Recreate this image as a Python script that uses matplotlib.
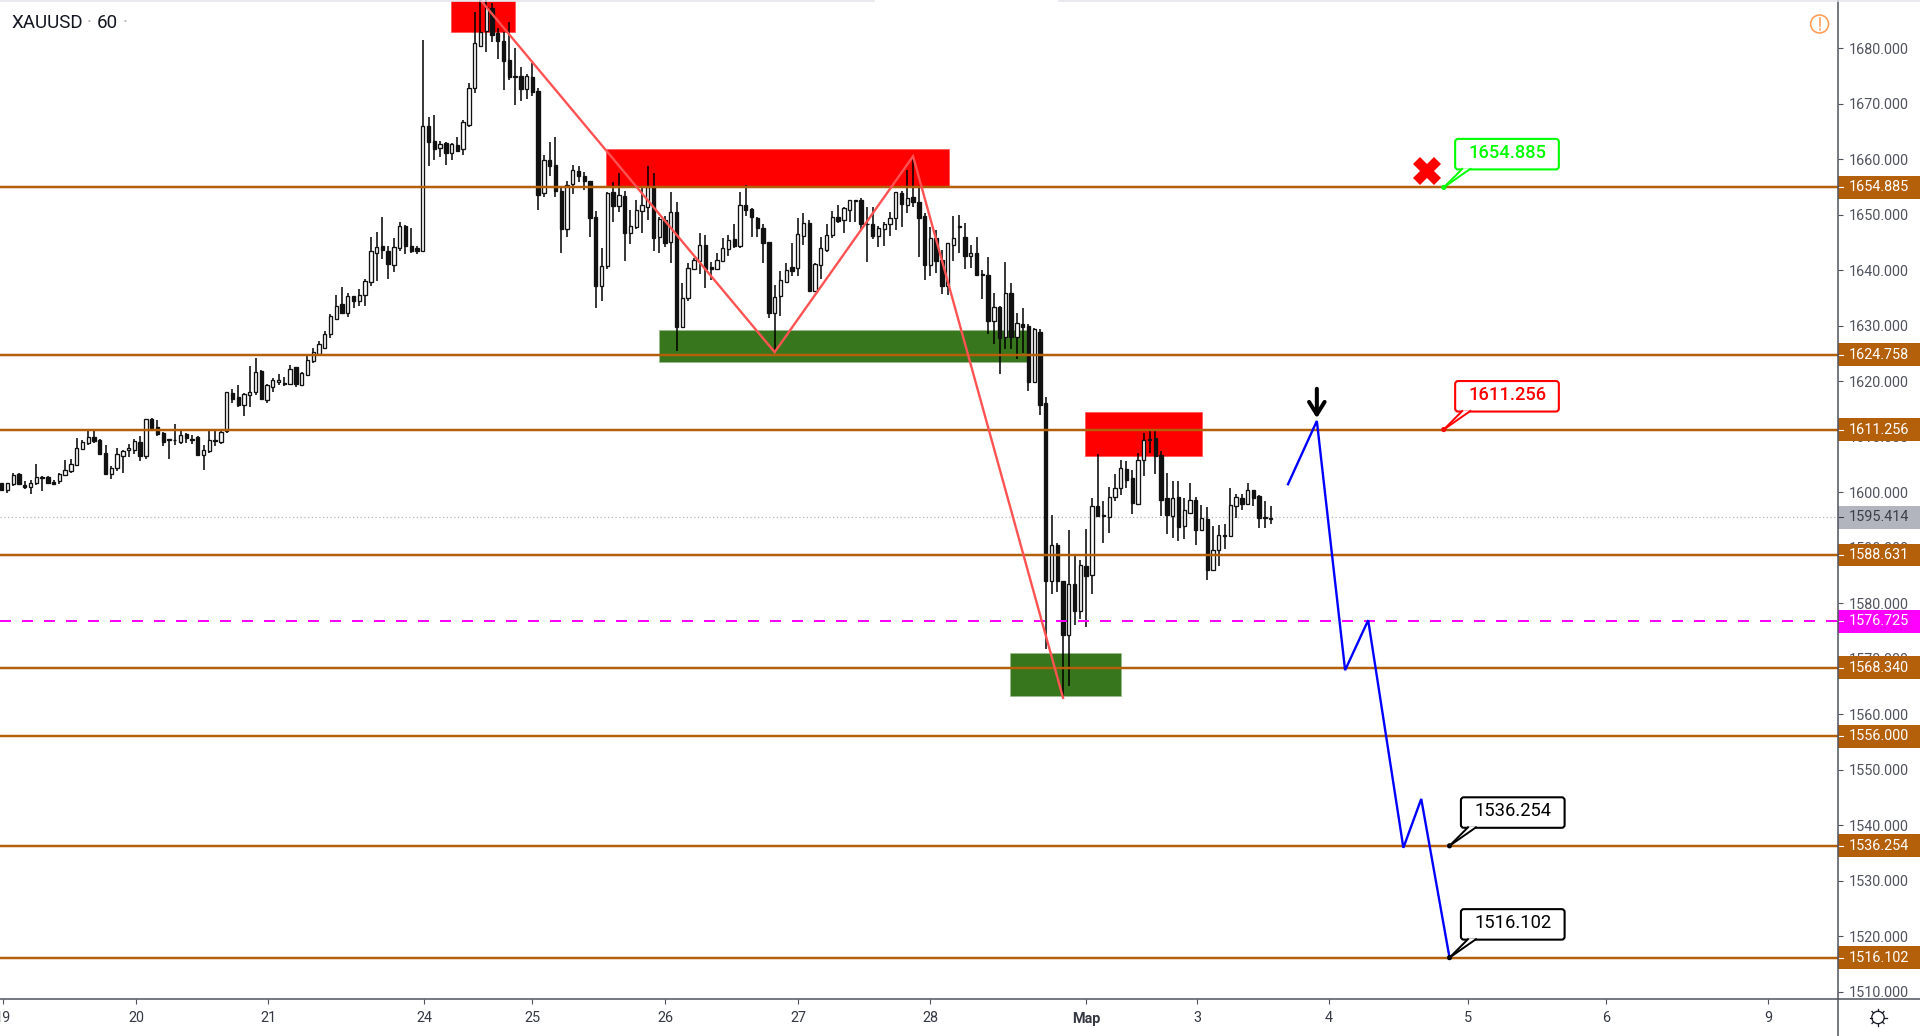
import matplotlib
matplotlib.use("Agg")
import matplotlib.pyplot as plt
import numpy as np
from matplotlib.lines import Line2D
from matplotlib.patches import Rectangle, FancyBboxPatch, Polygon, Circle
from matplotlib.transforms import Affine2D

plt.rcParams['font.family'] = ['Roboto', 'DejaVu Sans']

# hourly candles
opens = [1601.6,1600.3,1601.5,1603.3,1601.2,1600.9,1601.7,1602.7,1602.7,1601.8,
1602.0,1603.1,1603.7,1604.9,1607.7,1608.9,1610.0,1609.4,1607.1,1603.2,
1604.4,1606.5,1607.5,1607.5,1609.1,1606.4,1613.2,1611.8,1610.7,1609.5,
1609.4,1609.0,1610.5,1609.6,1609.9,1606.7,1607.4,1609.2,1609.1,1611.0,
1617.8,1617.1,1615.7,1617.5,1618.0,1621.8,1616.6,1618.9,1619.8,1619.6,
1619.5,1622.5,1619.2,1621.1,1623.6,
1624.8,1626.0,1628.5,1631.2,1633.8,1632.3,1635.3,1634.5,1635.5,1637.8,
1643.1,1644.3,1643.5,1640.9,1643.9,1648.0,1644.3,1643.9,1643.5,1665.9,
1663.2,1661.9,1662.9,1661.1,1662.6,1661.8,1666.2,1672.8,1680.4,1683.0,
1687.2,1682.7,1681.2,1677.9,1674.9,1675.0,1672.6,1674.7,1672.3,1653.9,
1659.9,1659.0,1654.2,1647.4,1655.5,1657.8,1656.9,1656.0,1649.5,1637.2,
1640.8,1654.0,1651.5,1653.3,1646.7,1647.7,
1650.6,1651.4,1655.0,1645.9,1649.1,1645.0,1650.4,1629.7,1634.9,
1640.1,1641.6,1644.5,1640.5,1640.1,1641.6,1643.7,1645.6,1644.3,1651.7,
1651.0,1649.4,1647.6,1645.0,1632.2,1635.4,1637.8,1640.5,1640.3,1646.2,
1648.5,1636.3,1640.9,1643.6,1646.3,1649.6,1649.0,1650.9,1652.6,1652.7,
1648.3,1648.3,1646.1,1647.3,1648.2,1649.3,1653.8,1651.8,1653.2,1652.2,
1649.7,1640.9,1645.7,1641.8,1637.2,1644.5,1647.9,
1646.0,1642.5,1643.1,
1639.2,1639.1,1630.9,1633.3,1628.0,1635.9,1627.9,1630.3,1629.9,1619.9,
1628.9,1616.1,1584.0,1590.5,1583.9,1574.3,1583.5,1578.6,1586.6,1585.1,
1597.4,1595.9,1595.5,1599.1,1600.7,1604.1,1602.6,1597.9,1605.7,1609.5,
1609.7,1606.7,1598.9,1595.6,1599.1,1593.9,1596.2,1598.6,1593.2,1595.1,
1585.9,1589.5,1592.3,1592.1,1597.5,1598.9,1597.9,1600.3,1599.2,1595.5,
1595.1]
highs = [1601.7,1601.7,1603.4,1603.4,1601.9,1602.2,1605.1,1602.8,1602.8,1602.1,
1603.5,1605.7,1605.9,1609.7,1609.4,1611.2,1611.2,1609.5,1608.5,1604.7,
1608.0,1607.6,1608.6,1609.5,1610.1,1613.2,1613.3,1612.9,1610.8,1609.5,
1612.3,1611.2,1610.7,1610.3,1610.1,1608.5,1611.1,1611.1,1611.3,1618.1,
1618.5,1619.3,1617.9,1622.7,1624.2,1622.0,1619.5,1620.5,1621.3,1620.7,
1622.8,1622.6,1621.6,1624.7,1626.0,
1627.2,1629.0,1632.1,1635.5,1636.9,1635.9,1635.4,1636.5,1638.3,1646.0,
1646.9,1649.5,1644.3,1645.8,1648.6,1648.1,1647.5,1644.4,1681.5,1667.5,
1668.0,1663.2,1663.0,1662.9,1663.9,1667.1,1673.7,1686.4,1688.7,1688.7,
1688.1,1683.6,1682.8,1684.6,1680.0,1676.5,1675.3,1677.3,1672.8,1660.8,
1663.0,1663.9,1655.1,1656.0,1659.0,1658.7,1657.6,1656.0,1650.6,1644.0,
1654.0,1655.8,1657.5,1654.2,1650.9,1652.7,
1654.7,1658.7,1657.4,1649.5,1649.8,1654.0,1652.3,1637.6,1641.2,
1642.1,1646.6,1646.3,1641.5,1643.0,1645.7,1646.3,1648.2,1654.0,1655.4,
1651.1,1649.6,1648.3,1645.0,1637.3,1639.8,1641.2,1644.8,1649.3,1650.2,
1649.0,1641.2,1645.9,1648.3,1650.6,1651.7,1651.4,1652.7,1652.6,1652.9,
1651.3,1651.3,1647.9,1648.7,1650.5,1654.1,1654.3,1658.0,1660.5,1655.0,
1650.3,1647.7,1647.2,1643.6,1644.9,1649.7,1650.0,
1648.5,1644.5,1646.0,
1640.0,1642.4,1635.8,1633.5,1641.5,1637.7,1632.3,1633.1,1630.2,1629.5,
1629.3,1617.2,1595.9,1590.9,1584.0,1593.2,1588.7,1587.7,1593.4,1598.9,
1606.9,1598.3,1600.9,1603.3,1605.8,1605.6,1604.0,1607.1,1610.7,1611.2,
1611.0,1607.3,1603.5,1601.9,1601.9,1598.9,1601.7,1599.1,1597.7,1597.3,
1593.8,1594.1,1594.3,1600.7,1599.7,1599.7,1601.6,1600.4,1599.5,1598.3,
1597.4]
lows = [1600.3,1599.8,1601.1,1601.3,1600.5,1599.7,1601.3,1600.2,1601.5,1601.2,
1601.5,1602.8,1603.4,1604.8,1607.5,1608.5,1608.8,1606.7,1603.1,1602.3,
1603.7,1603.5,1606.3,1606.9,1605.6,1605.9,1611.1,1610.1,1608.3,1606.0,
1608.4,1608.7,1608.8,1608.7,1606.5,1604.0,1607.1,1608.3,1608.7,1610.7,
1616.1,1615.3,1613.7,1615.4,1617.5,1616.5,1616.1,1618.0,1619.3,1619.1,
1619.4,1619.0,1619.1,1621.1,1623.3,
1624.5,1625.7,1627.7,1631.1,1632.1,1631.5,1633.2,1633.6,1633.6,1637.2,
1638.1,1641.9,1638.3,1639.6,1643.5,1642.8,1643.1,1642.9,1643.5,1658.7,
1659.9,1660.3,1659.0,1659.8,1661.5,1660.8,1665.7,1671.9,1680.1,1679.3,
1681.1,1678.1,1672.5,1674.3,1669.8,1670.5,1670.9,1671.4,1650.9,1653.1,
1657.0,1653.1,1643.1,1646.0,1653.7,1655.8,1654.5,1646.0,1633.1,1634.5,
1640.2,1648.6,1650.5,1641.7,1644.6,1647.3,
1646.7,1649.0,1643.5,1643.1,1644.1,1641.2,1625.4,1629.7,1634.4,
1640.0,1639.3,1636.8,1638.2,1640.0,1641.6,1642.5,1643.9,1643.9,1649.7,
1645.9,1645.9,1641.3,1631.3,1625.4,1631.7,1637.6,1638.9,1638.9,1644.5,
1636.3,1636.3,1638.4,1643.3,1645.8,1648.4,1646.6,1648.6,1648.7,1647.2,
1641.4,1645.6,1644.2,1644.3,1646.1,1647.2,1647.7,1650.2,1651.3,1642.3,
1638.2,1638.9,1639.4,1635.6,1635.5,1641.6,1643.0,
1640.1,1640.3,1638.9,
1634.8,1628.5,1626.7,1621.3,1625.7,1625.7,1623.9,1625.0,1618.2,1619.7,
1613.9,1571.7,1581.7,1581.9,1563.0,1565.0,1576.1,1577.1,1575.6,1581.7,
1595.6,1590.9,1592.7,1598.3,1599.5,1600.7,1596.1,1597.9,1602.9,1607.1,
1603.3,1595.6,1592.5,1591.8,1591.2,1591.5,1596.0,1590.5,1593.1,1584.1,
1585.8,1586.7,1589.7,1592.0,1595.4,1596.7,1597.7,1597.4,1593.6,1593.6,
1594.2]
closes = [1600.4,1601.6,1603.1,1601.5,1600.9,1601.7,1602.7,1602.6,1601.7,1601.5,
1603.3,1604.0,1605.1,1607.9,1609.1,1610.0,1609.2,1606.9,1603.2,1604.4,
1606.9,1607.3,1608.0,1609.2,1606.5,1613.1,1611.5,1610.5,1609.1,1609.4,
1609.3,1610.2,1609.8,1609.4,1606.7,1607.6,1609.4,1609.3,1610.9,1618.0,
1616.7,1615.7,1617.7,1618.1,1621.7,1616.7,1619.3,1620.1,1620.2,1619.5,
1622.2,1619.5,1621.4,1623.8,1625.3,
1626.6,1628.4,1631.7,1633.5,1632.3,1635.4,1634.5,1635.5,1638.1,1643.4,
1644.1,1643.6,1641.0,1644.1,1647.9,1644.4,1643.5,1643.5,1665.9,1663.1,
1661.8,1662.7,1661.1,1662.7,1661.5,1666.6,1672.8,1680.9,1682.8,1687.3,
1682.3,1681.2,1677.7,1674.7,1674.8,1672.6,1675.0,1672.1,1653.6,1659.9,
1658.8,1654.2,1647.4,1655.4,1658.1,1656.9,1656.0,1649.4,1637.2,1640.8,
1653.9,1651.5,1653.6,1646.7,1647.9,1650.9,
1651.7,1654.9,1645.7,1649.2,1644.9,1650.4,1629.7,1635.0,1640.3,
1641.8,1644.5,1640.2,1640.1,1641.8,1643.9,1645.4,1644.3,1651.7,1650.9,
1649.5,1647.5,1644.9,1632.2,1635.2,1638.2,1640.0,1639.9,1646.5,1648.5,
1636.3,1641.1,1643.9,1646.3,1649.6,1648.8,1651.1,1652.6,1652.5,1648.2,
1648.2,1646.1,1647.5,1648.3,1649.4,1654.0,1651.9,1653.0,1652.2,1649.3,
1640.9,1645.7,1641.7,1637.2,1644.8,1645.8,1647.7,
1642.6,1643.1,1639.1,
1639.1,1630.9,1633.3,1627.7,1635.9,1628.0,1630.5,1629.8,1619.9,1629.3,
1615.7,1584.0,1590.5,1584.0,1574.3,1583.5,1578.6,1586.9,1584.9,1597.4,
1595.7,1595.7,1599.1,1600.8,1604.4,1602.2,1598.0,1605.8,1609.3,1609.3,
1606.5,1598.6,1595.9,1599.0,1593.7,1596.7,1598.5,1593.2,1595.3,1585.9,
1589.5,1592.3,1592.1,1597.7,1599.1,1597.9,1600.3,1598.9,1595.4,1595.3,
1595.4]

# axis labels
day_bars = [0.14, 23.3, 46.2, 73.2, 92, 115, 138.1, 161, 188, 207.3, 230.1, 254.2, 278.2, 306.2]
day_labels = ["19", "20", "21", "24", "25", "26", "27", "28", "Мар", "3", "4", "5", "6", "9"]
price_ticks = [1510, 1520, 1530, 1540, 1550, 1560, 1570, 1580, 1590, 1600, 1610, 1620, 1630, 1640, 1650, 1660, 1670, 1680]

# horizontal levels and special prices
levels = [1654.885, 1624.758, 1611.256, 1588.631, 1568.340, 1556.000, 1536.254, 1516.102]
last_price = 1595.414
magenta_price = 1576.725

# drawings: zones as (bar from, bar to, price low, price high)
red_zones = [(77.9, 89.0, 1682.9, 1688.5), (104.8, 164.2, 1655.05, 1661.8), (187.8, 208.1, 1606.4, 1614.5)]
green_zones = [(114.0, 178.0, 1623.4, 1629.2), (174.8, 194.0, 1563.3, 1571.0)]
zig_bars = [83.2, 134, 158, 184]
zig_prices = [1688.4, 1625.2, 1660.5, 1562.9]
plan_bars = [223, 228, 232.9, 236.9, 243, 246.1, 251]
plan_prices = [1601.4, 1612.8, 1567.9, 1576.9, 1535.9, 1544.7, 1516.102]
# callouts: anchor bar, anchor price, label, colour
callouts = [(250.0, 1654.885, "1654.885", "#00ff00"), (250.0, 1611.256, "1611.256", "#ff0000"),
            (251.0, 1536.254, "1536.254", "#000000"), (251.0, 1516.102, "1516.102", "#000000")]

BROWN = "#b4600a"
AXC = "#50535e"
W, H, AX_R, AX_B = 1920, 1036, 1838, 999

fig = plt.figure(figsize=(W / 100, H / 100), dpi=100, facecolor="white")
ax = fig.add_axes([0, (H - AX_B) / H, AX_R / W, AX_B / H])
ax.set_xlim(-0.295, 318.35)
ax.set_ylim(1508.65, 1688.65)
for s in ax.spines.values():
    s.set_visible(False)
pix = Affine2D().scale(1, -1).translate(0, H)  # image pixels, y down

ax.yaxis.tick_right()
ax.set_yticks(price_ticks)
ax.set_yticklabels(["%.3f" % p for p in price_ticks])
ax.set_xticks(day_bars)
ax.set_xticklabels(day_labels)
ax.tick_params(axis="y", length=3.6, width=0.8, color=AXC, labelcolor=AXC, pad=4.3, labelsize=10.4)
ax.tick_params(axis="x", length=3.6, width=0.8, color=AXC, labelcolor="#333842", pad=5.4, labelsize=10.4)
ax.get_xticklabels()[day_labels.index("Мар")].set_fontweight("bold")

# zones under the candles
for x0, x1, y0, y1 in red_zones:
    ax.add_patch(Rectangle((x0, y0), x1 - x0, y1 - y0, fc="#ff0000", ec="#ff5050", lw=0.5, zorder=1))
for x0, x1, y0, y1 in green_zones:
    ax.add_patch(Rectangle((x0, y0), x1 - x0, y1 - y0, fc="#38761d", ec="#9dbb8e", lw=0.5, zorder=1))

# candles
o, h, l, c = map(np.array, (opens, highs, lows, closes))
bars = np.arange(len(o))
ax.vlines(bars, l, h, color="#000000", lw=1.1, zorder=3)
up = c >= o
ax.bar(bars, c - o, bottom=o, width=0.58, color=np.where(up, "white", "#111111"),
       edgecolor="#111111", lw=0.95, zorder=4)

# levels, with a pale edge like the reference
for p in levels:
    ax.axhline(p, color=BROWN, lw=2.6, alpha=0.25, zorder=5)
    ax.axhline(p, color=BROWN, lw=1.5, zorder=5)
ax.axhline(last_price, color="#b2b5be", lw=0.9, ls=(0, (1, 2)), zorder=2)
ax.axhline(magenta_price, color="#ff00ff", lw=1.44, dashes=(5.5, 5.5), zorder=5)

# zigzag and forecast path
ax.plot(zig_bars, zig_prices, color="#ff5252", lw=1.7, zorder=6, solid_joinstyle="miter")
ax.plot(plan_bars, plan_prices, color="#0000ff", lw=1.7, zorder=6, solid_joinstyle="miter")

ax.annotate("", xy=(228, 1613.3), xytext=(228, 1618.6),
            arrowprops=dict(arrowstyle="->,head_length=0.45,head_width=0.28", lw=2.9, color="black",
                            shrinkA=0, shrinkB=0, mutation_scale=20), zorder=7)
ax.plot([247.1], [1657.9], marker="X", color="#ff0000", ms=20, mew=0, zorder=7)

# callouts, offsets are pixels from the anchor
for b, p, txt, col in callouts:
    ox, oy = ax.transData.transform((b, p))
    t = Affine2D().translate(ox, oy)
    ax.add_patch(FancyBboxPatch((11.4, 18), 103.7, 30.5, boxstyle="round,pad=0,rounding_size=3",
                                fc="white", ec=col, lw=1.5, transform=t, zorder=8, clip_on=False))
    ax.add_patch(Polygon([(0, 0), (18.5, 19), (26.5, 19)], fc="white", ec="none", transform=t, zorder=8))
    ax.add_line(Line2D([0, 18.5], [0, 18.5], color=col, lw=1.4, transform=t, zorder=9))
    ax.add_line(Line2D([0, 26.5], [0, 18.5], color=col, lw=1.4, transform=t, zorder=9))
    ax.add_patch(Circle((0, 0), 2.6, fc=col, ec="none", transform=t, zorder=9))
    ax.text(63.5, 34.5, txt, ha="center", va="center", color=col, fontsize=13.2,
            fontweight="medium" if col != "#000000" else "normal", transform=t, zorder=9)

# price labels on the right scale
def price_label(p, fc, tc):
    trans = ax.get_yaxis_transform()
    ax.add_patch(Rectangle((1.0, p - 2.05), (W - AX_R) / AX_R, 4.1, fc=fc, ec="none", transform=trans,
                           clip_on=False, zorder=10))
    ax.add_line(Line2D([1.0005, 1.0027], [p, p], color="white" if fc != "#b2b5be" else tc, lw=0.8,
                       transform=trans, clip_on=False, zorder=11))
    ax.text(1849 / AX_R, p, "%.3f" % p, color=tc, fontsize=10.4, va="center", ha="left", transform=trans,
            clip_on=False, zorder=11)

for p in levels:
    price_label(p, BROWN, "white")
price_label(last_price, "#b2b5be", "#3c3f48")
price_label(magenta_price, "#ff00ff", "white")

# frame lines
fig.add_artist(Line2D([AX_R, AX_R], [0, H], color=AXC, lw=1.1, transform=pix))
fig.add_artist(Line2D([0, W], [AX_B, AX_B], color=AXC, lw=1.1, transform=pix))
for xs in ([0, 874], [1059, 1920]):
    fig.add_artist(Line2D(xs, [0.5, 0.5], color="#e0e3eb", lw=1.1, transform=pix))

# title
fig.text(11.4, 23, "XAUUSD", fontsize=13.5, color="#131722", va="center", transform=pix)
fig.text(89, 23, "·", fontsize=13.5, color="#b2b5be", va="center", ha="center", transform=pix)
fig.text(97, 23, "60", fontsize=13.5, color="#131722", va="center", transform=pix)
fig.text(125, 23, "·", fontsize=13.5, color="#b2b5be", va="center", ha="center", transform=pix)

# warning icon
ORANGE = "#ff9850"
fig.add_artist(Circle((1819.6, 24), 9, fc="white", ec=ORANGE, lw=1.1, transform=pix))
fig.add_artist(Line2D([1819.6, 1819.6], [18, 26], color=ORANGE, lw=1.1, transform=pix))
fig.add_artist(Line2D([1819.6, 1819.6], [28.5, 30], color=ORANGE, lw=1.1, transform=pix))

# settings gear
gx, gy = 1878, 1017.5
fig.add_artist(Circle((gx, gy), 6.2, fc="white", ec="#131722", lw=0.9, transform=pix))
for a in np.deg2rad([0, 45, 90, 135, 180, 225, 270, 315]):
    fig.add_artist(Line2D([gx + 6.2 * np.cos(a), gx + 8.5 * np.cos(a)], [gy + 6.2 * np.sin(a), gy + 8.5 * np.sin(a)],
                          color="#131722", lw=0.9, transform=pix))

fig.savefig("out.png", dpi=100)
